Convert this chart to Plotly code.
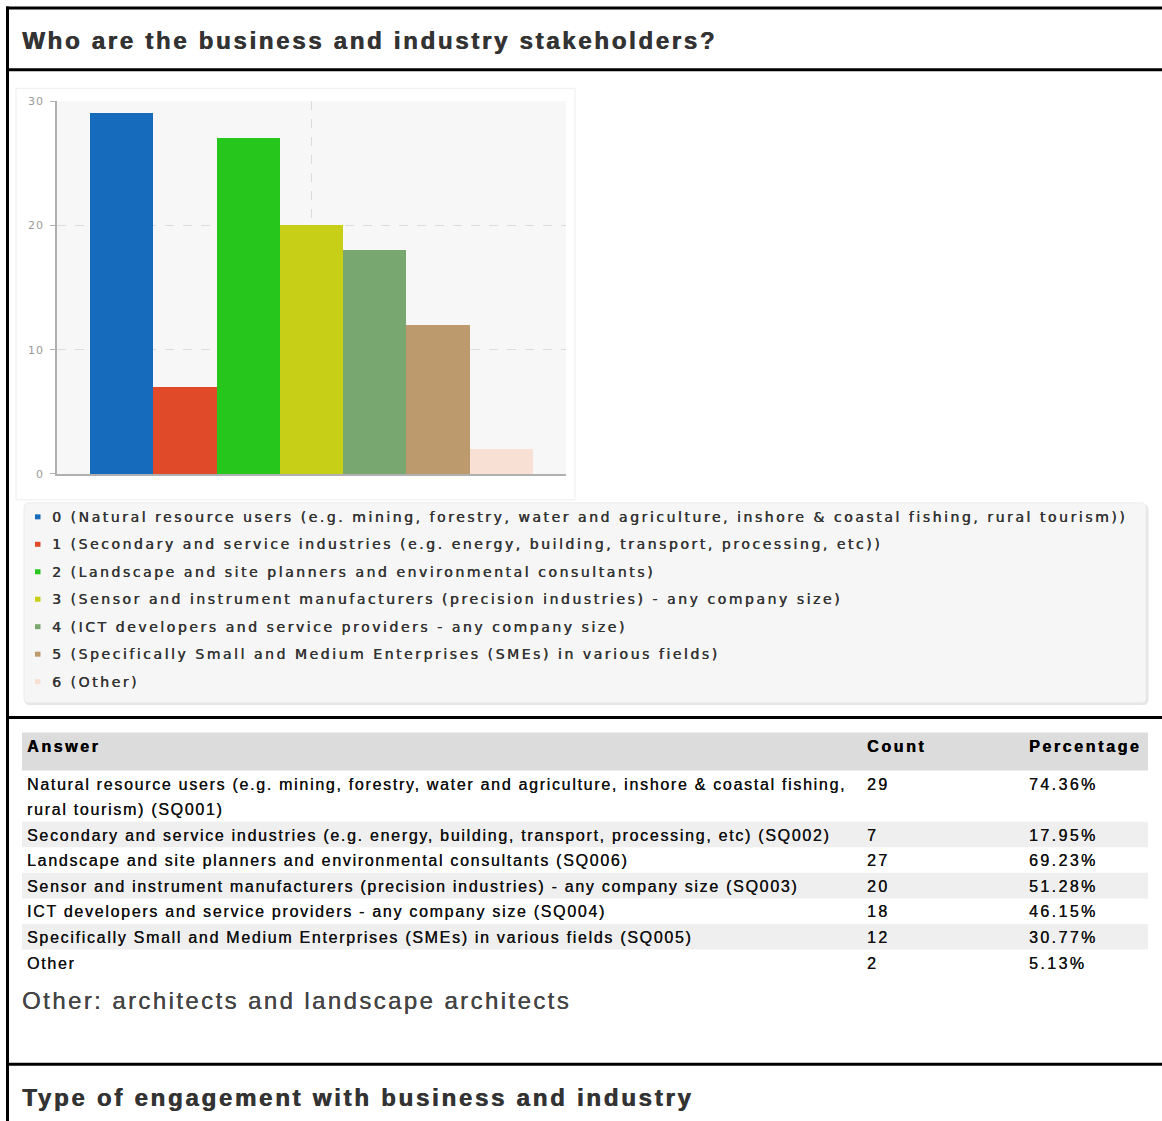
import plotly.graph_objects as go

W, H = 1162, 1121

# ---- survey data -------------------------------------------------------
codes = ["0", "1", "2", "3", "4", "5", "6"]
legend_labels = [
    "Natural resource users (e.g. mining, forestry, water and agriculture, inshore & coastal fishing, rural tourism)",
    "Secondary and service industries (e.g. energy, building, transport, processing, etc)",
    "Landscape and site planners and environmental consultants",
    "Sensor and instrument manufacturers (precision industries) - any company size",
    "ICT developers and service providers - any company size",
    "Specifically Small and Medium Enterprises (SMEs) in various fields",
    "Other",
]
answers = [
    "Natural resource users (e.g. mining, forestry, water and agriculture, inshore & coastal fishing,<br>rural tourism) (SQ001)",
    "Secondary and service industries (e.g. energy, building, transport, processing, etc) (SQ002)",
    "Landscape and site planners and environmental consultants (SQ006)",
    "Sensor and instrument manufacturers (precision industries) - any company size (SQ003)",
    "ICT developers and service providers - any company size (SQ004)",
    "Specifically Small and Medium Enterprises (SMEs) in various fields (SQ005)",
    "Other",
]
counts = [29, 7, 27, 20, 18, 12, 2]
percentages = ["74.36%", "17.95%", "69.23%", "51.28%", "46.15%", "30.77%", "5.13%"]
y_ticks = [0, 10, 20, 30]
table_headers = ["Answer", "Count", "Percentage"]
bar_colors = ["#176bbd", "#e04a28", "#26c61c", "#c8cf17", "#78a870", "#bc9a6e", "#f9e0d4"]

question_title = "Who are the business and industry stakeholders?"
next_title = "Type of engagement with business and industry"
other_note = "Other: architects and landscape architects"

# vertical placement grid of the page
V_OFF, V_SCALE = 5.6, 0.9895


# ---- helpers: pixel -> paper coordinates --------------------------------
def X(px):
    return px / W


def Y(py):
    return 1 - (py - V_OFF) / V_SCALE / H


def wide(text, ls, color=None, weight=0.0):
    # letter-spaced text; an optional horizontal shadow widens the strokes
    style = f"letter-spacing:{ls}px"
    if color and weight:
        style += f";text-shadow:{weight}px 0 0 {color}"
    return f'<span style="{style}">{text}</span>'


ARIAL = "Liberation Sans, Arial, Helvetica, sans-serif"
DEJAVU = "DejaVu Sans, sans-serif"

fig = go.Figure()

# ---- bar chart ---------------------------------------------------------
fig.add_trace(go.Bar(
    x=list(range(len(counts))),
    y=counts,
    marker=dict(color=bar_colors, line=dict(width=0)),
    hoverinfo="skip",
    showlegend=False,
))

shapes = []
annotations = []


def hline(y, x0, x1, w=3, color="#000"):
    shapes.append(dict(type="line", xref="paper", yref="paper",
                       x0=X(x0), x1=X(x1), y0=Y(y), y1=Y(y),
                       line=dict(color=color, width=w)))


def rect(x0, y0, x1, y1, fill, line_color=None, layer="below"):
    shapes.append(dict(type="rect", xref="paper", yref="paper",
                       x0=X(x0), x1=X(x1), y0=Y(y0), y1=Y(y1),
                       fillcolor=fill, layer=layer,
                       line=dict(width=1 if line_color else 0,
                                 color=line_color or fill)))


def rounded(x0, y0, x1, y1, r, fill, line_color, width=1):
    p = (f"M {X(x0 + r)},{Y(y0)} L {X(x1 - r)},{Y(y0)} "
         f"Q {X(x1)},{Y(y0)} {X(x1)},{Y(y0 + r)} L {X(x1)},{Y(y1 - r)} "
         f"Q {X(x1)},{Y(y1)} {X(x1 - r)},{Y(y1)} L {X(x0 + r)},{Y(y1)} "
         f"Q {X(x0)},{Y(y1)} {X(x0)},{Y(y1 - r)} L {X(x0)},{Y(y0 + r)} "
         f"Q {X(x0)},{Y(y0)} {X(x0 + r)},{Y(y0)} Z")
    shapes.append(dict(type="path", xref="paper", yref="paper", path=p,
                       fillcolor=fill, layer="below",
                       line=dict(color=line_color, width=width)))


def text(x, y, s, size, color, family=ARIAL, ls=0.0, bold=False, weight=0.0):
    body = f"<b>{s}</b>" if bold else s
    body = wide(body, ls, color, weight)
    annotations.append(dict(xref="paper", yref="paper", x=X(x), y=Y(y),
                            text=body, showarrow=False, xanchor="left",
                            yanchor="middle", align="left", borderpad=0,
                            font=dict(family=family, size=size, color=color)))


# page frame lines
hline(7.5, 6, W)
shapes.append(dict(type="line", xref="paper", yref="paper",
                   x0=X(7.5), x1=X(7.5), y0=Y(6), y1=Y(H + 10),
                   line=dict(color="#000", width=3)))
hline(69.5, 6, W)
hline(718, 6, W)
hline(1065, 6, W)

# question titles
text(21, 40, question_title, 24, "#333333", ls=2.7, bold=True, weight=0.7)
text(21, 1098, next_title, 24, "#333333", ls=2.75, bold=True, weight=0.7)

# faint frame of the chart image
rect(16, 88, 575, 500, "rgba(0,0,0,0)", line_color="#ededed")

# legend panel
rounded(25, 505, 1148, 705, 5, "#e6e6e6", "#e6e6e6")
rounded(24, 503, 1146, 703, 5, "#f6f6f6", "#ececec")
for i, (code, label) in enumerate(zip(codes, legend_labels)):
    yc = 517 + 27.5 * i
    rect(35, yc - 2.5, 40.5, yc + 2.5, bar_colors[i], layer="above")
    text(51, yc, f"{code} ({label})", 14, "#333333", family=DEJAVU, ls=2.55, weight=0.4)

# results table
col_x = [26, 866, 1028]
rect(22, 733, 1148, 771, "#dcdcdc")
for cx, h in zip(col_x, table_headers):
    text(cx, 747, h, 16, "#000000", ls=2.6, bold=True, weight=0.5)

pitch = 25.6
top = 771.0
for i, (ans, cnt, pct) in enumerate(zip(answers, counts, percentages)):
    lines = ans.split("<br>")
    row_h = pitch * len(lines)
    if i % 2 == 1:
        rect(22, top, 1148, top + row_h, "#efefef")
    for k, ln in enumerate(lines):
        text(col_x[0], top + 13.5 + k * pitch, ln, 16, "#111111", ls=1.7, weight=0.2)
    text(col_x[1], top + 13.5, str(cnt), 16, "#111111", ls=2.4, weight=0.2)
    text(col_x[2], top + 13.5, pct, 16, "#111111", ls=2.4, weight=0.2)
    top += row_h

text(21, 1001, other_note, 24, "#444444", ls=2.4, weight=0.3)

# ---- layout ------------------------------------------------------------
fig.update_layout(
    width=W, height=H,
    margin=dict(l=0, r=0, t=0, b=0),
    paper_bgcolor="#ffffff",
    plot_bgcolor="#f7f7f7",
    bargap=0,
    showlegend=False,
    shapes=shapes,
    annotations=annotations,
    xaxis=dict(
        domain=[X(57), X(566)],
        range=[-1.02, len(counts) + 0.02],
        tickvals=[3], showticklabels=False, ticks="",
        showgrid=True, gridcolor="#dcdcdc", griddash="dash", gridwidth=1,
        zeroline=False, showline=True, linecolor="#b0b0b0", linewidth=1.5,
        fixedrange=True,
    ),
    yaxis=dict(
        domain=[Y(474), Y(101)],
        range=[0, 30],
        tickvals=y_ticks, ticktext=[wide(str(v), 1) for v in y_ticks],
        ticks="outside", ticklen=5, tickcolor="#b0b0b0",
        tickfont=dict(family=DEJAVU, size=11, color="#9a9a9a"),
        ticklabelstandoff=4,
        showgrid=True, gridcolor="#dcdcdc", griddash="dash", gridwidth=1,
        zeroline=False, showline=True, linecolor="#b0b0b0", linewidth=1.5,
        fixedrange=True,
    ),
)

fig.write_html("out.html", post_script="document.body.style.margin = '0';")
